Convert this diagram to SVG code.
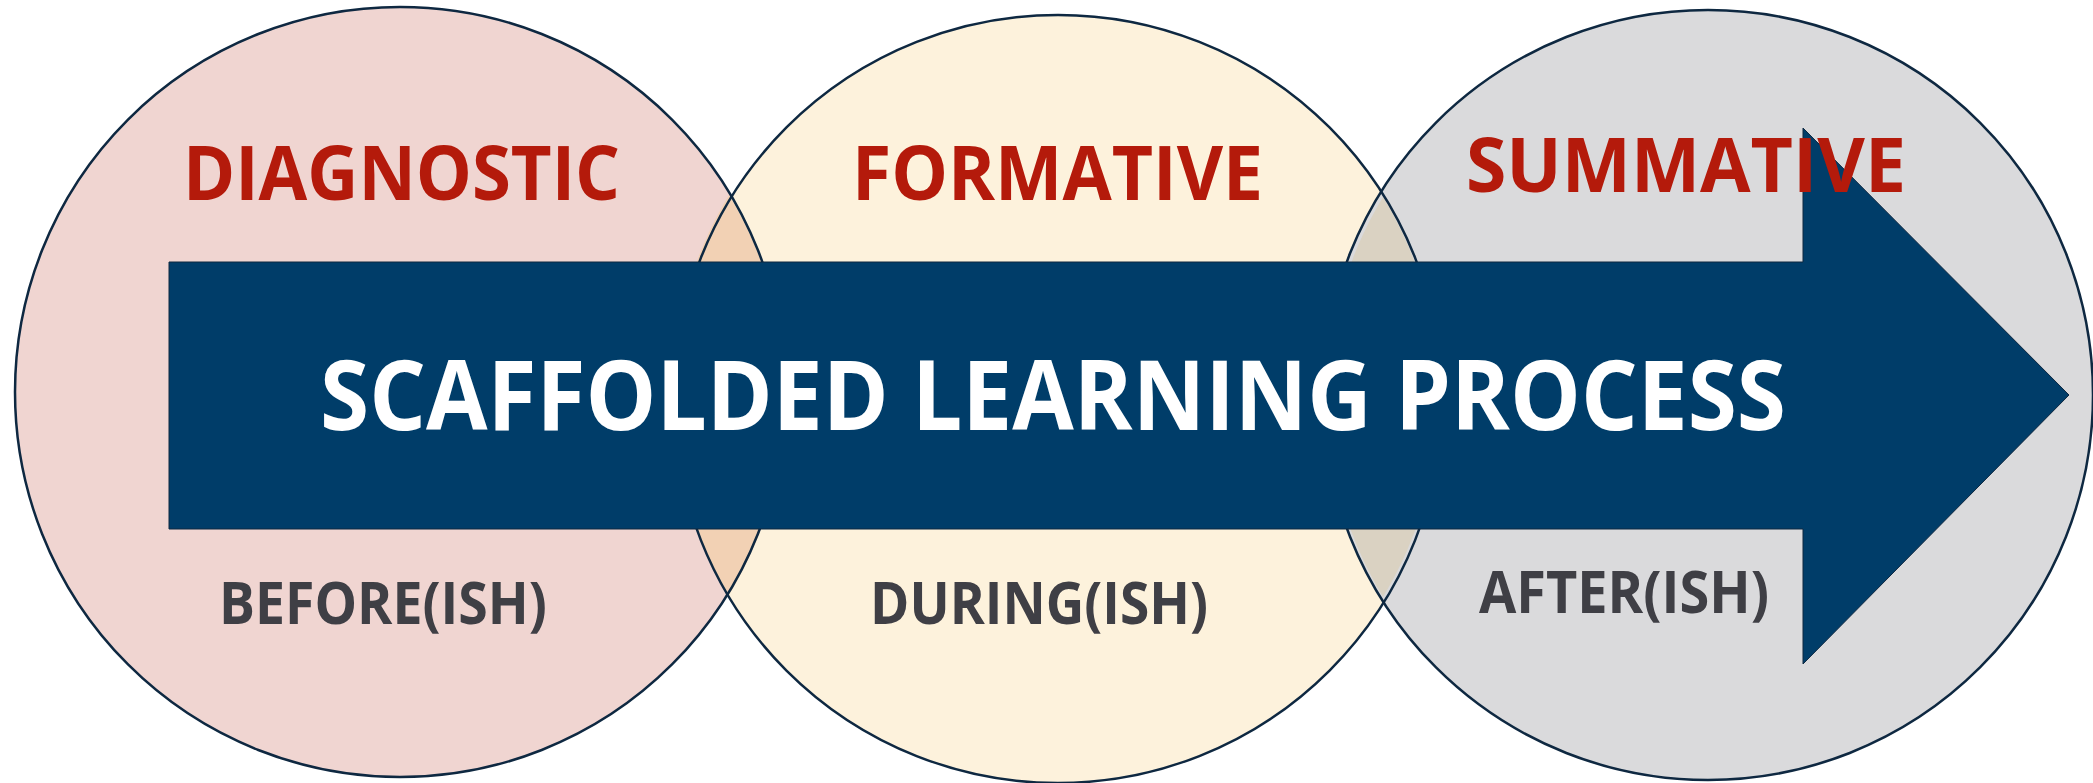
<svg xmlns="http://www.w3.org/2000/svg" width="2093" height="783" viewBox="0 0 2093 783">
<style>
.circ{stroke:none}
.ring{fill:none;stroke:#0E2841;stroke-width:2.5}
.head{font-family:"Open Sans","Liberation Sans",sans-serif;font-weight:700;fill:#B41A0B;font-size:75px}
.sub{font-family:"Open Sans","Liberation Sans",sans-serif;font-weight:700;fill:#3F3F45;font-size:59px}
.title{font-family:"Open Sans","Liberation Sans",sans-serif;font-weight:700;fill:#FFFFFF;font-size:96px}
</style>
<rect width="2093" height="783" fill="#FFFFFF"/>
<g id="fills">
<circle class="circ" cx="400" cy="392" r="385" fill="#F0D5D1"/>
<circle class="circ" cx="1058" cy="399" r="384" fill="#FDF2DC"/>
<circle class="circ" cx="1708" cy="395" r="385" fill="#DADADC"/>
<path d="M729,195 A384,384 0 0,0 729,595 A385,385 0 0,0 729,195 Z" fill="#F2D1B4"/>
<path d="M1383,197 A385,385 0 0,0 1383,597 A384,384 0 0,0 1383,197 Z" fill="#DAD2C2"/>
</g>
<g id="diagnostic">
<circle class="ring" cx="400" cy="392" r="385"/>
</g>
<g id="formative">
<circle class="ring" cx="1058" cy="399" r="384"/>
</g>
<g id="summative">
<circle class="ring" cx="1708" cy="395" r="385"/>
</g>
<g id="arrow">
<polygon points="169,262 1803,262 1803,128 2069,395 1803,664 1803,529 169,529" fill="#003D69" stroke="#0E2841" stroke-width="1"/>
<text class="title" x="320" y="430" textLength="1466" lengthAdjust="spacingAndGlyphs">SCAFFOLDED LEARNING PROCESS</text>
</g>
<g id="labels">
<text class="head" x="183" y="200" textLength="437" lengthAdjust="spacingAndGlyphs">DIAGNOSTIC</text>
<text class="head" x="852" y="200" textLength="411" lengthAdjust="spacingAndGlyphs">FORMATIVE</text>
<text class="head" x="1466" y="191.5" textLength="440" lengthAdjust="spacingAndGlyphs">SUMMATIVE</text>
<text class="sub" x="219" y="623.5" textLength="328" lengthAdjust="spacingAndGlyphs">BEFORE(ISH)</text>
<text class="sub" x="870" y="623.5" textLength="338" lengthAdjust="spacingAndGlyphs">DURING(ISH)</text>
<text class="sub" x="1479" y="612.5" textLength="290" lengthAdjust="spacingAndGlyphs">AFTER(ISH)</text>
</g>
</svg>
